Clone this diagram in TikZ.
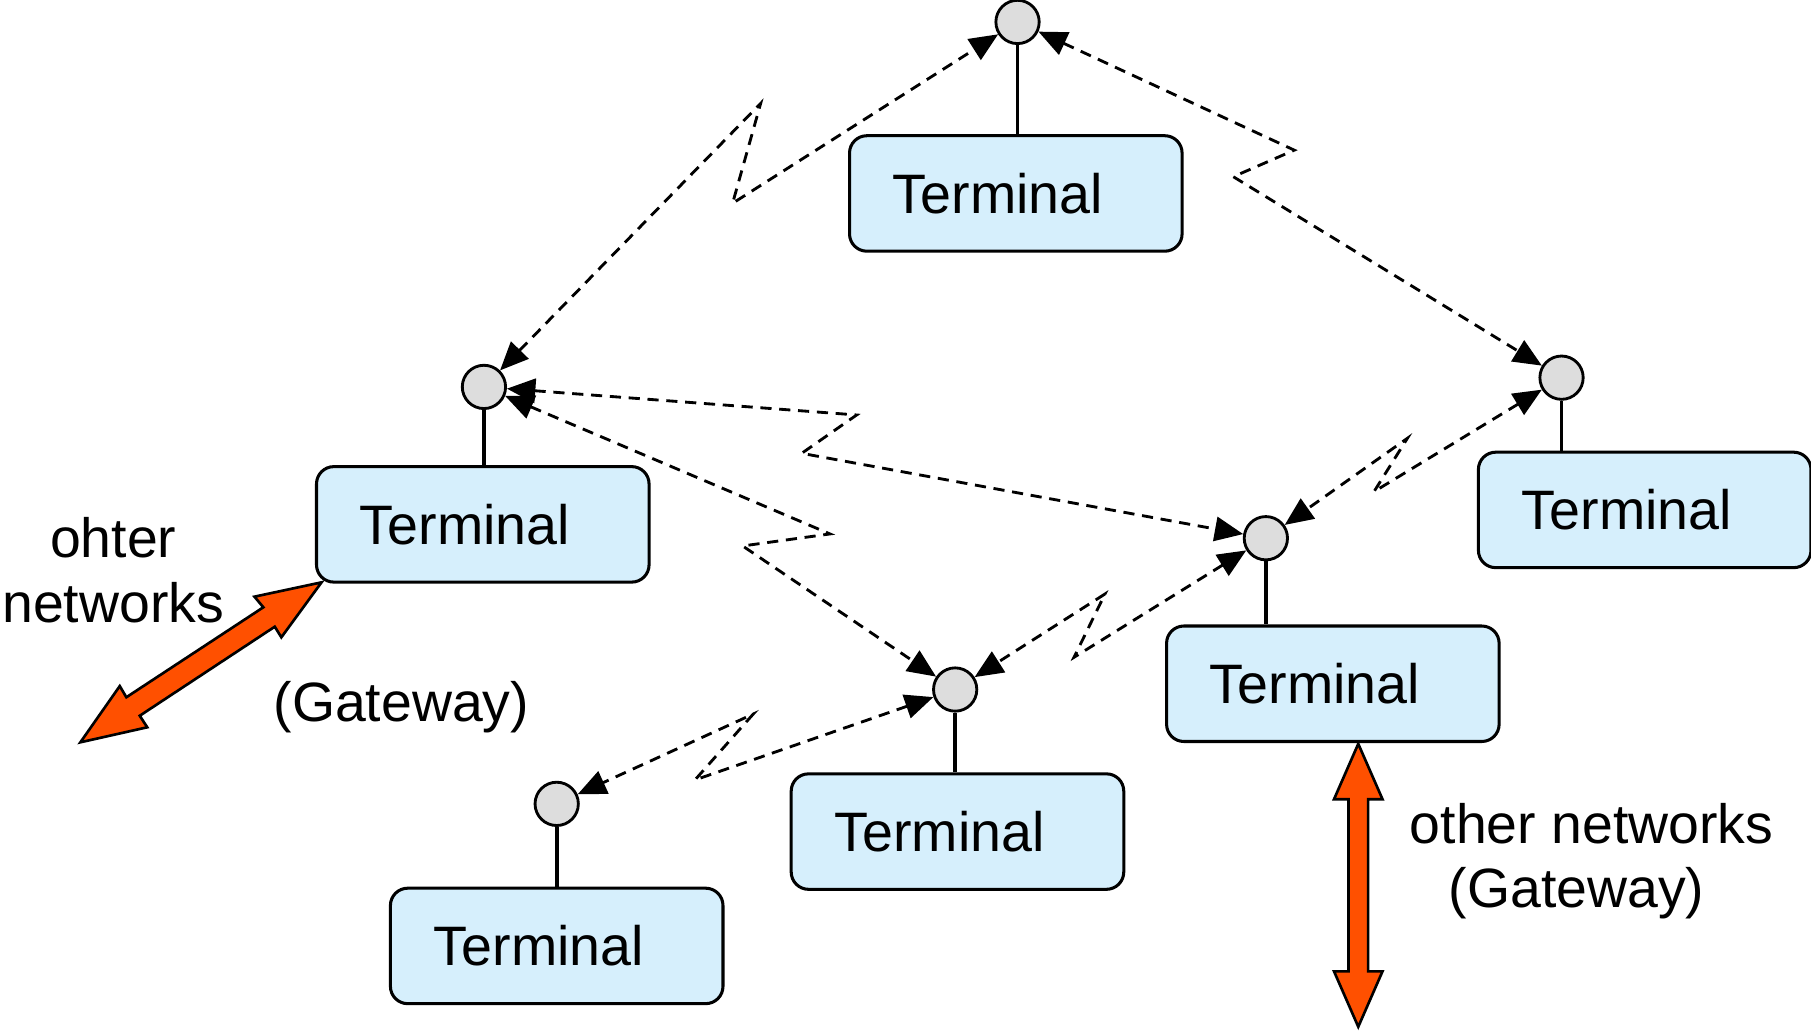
\documentclass[tikz,border=0pt]{standalone}
\usepackage{fontspec}
\setmainfont{Liberation Sans}
\usetikzlibrary{arrows.meta}
\definecolor{boxblue}{RGB}{214,239,252}
\definecolor{dotgray}{RGB}{221,221,221}
\definecolor{gwred}{RGB}{255,80,0}
\begin{document}
\begin{tikzpicture}[x=0.02cm,y=-0.02cm,
  termbox/.style={draw=black,line width=1.5pt,fill=boxblue,rounded corners=0.3cm,
    minimum width=5.76cm,minimum height=2cm,inner sep=0pt,
    font=\fontsize{27.4}{32}\selectfont},
  dot/.style={circle,draw=black,line width=1.4pt,fill=dotgray,minimum size=0.75cm,inner sep=0pt},
  stem/.style={line width=1.8pt},
  radio/.style={line width=1.4pt,dash pattern=on 5.5pt off 3.8pt,
    {Triangle[length=14pt,width=12pt]}-{Triangle[length=14pt,width=12pt]}},
  gateway/.style={draw=black,line width=1.3pt,fill=gwred,line join=miter},
  lbl/.style={anchor=base,font=\fontsize{27.3}{32}\selectfont,inner sep=0pt}]
\useasboundingbox (0,0) rectangle (1568,894.4);

% terminals
\node[termbox] (T1) at (879.5,167.5) {Terminal\kern0.62cm};
\node[termbox] (T2) at (418,454) {Terminal\kern0.62cm};
\node[termbox] (T3) at (1424,441.5) {Terminal\kern0.62cm};
\node[termbox] (T4) at (1154,592) {Terminal\kern0.62cm};
\node[termbox] (T5) at (829,720) {Terminal\kern0.62cm};
\node[termbox] (T6) at (482,819) {Terminal\kern0.62cm};

% antennas
\node[dot] (C1) at (881,19) {};
\node[dot] (C2) at (419,335) {};
\node[dot] (C3) at (1352,327) {};
\node[dot] (C4) at (1096,466) {};
\node[dot] (C5) at (827,597) {};
\node[dot] (C6) at (482,696) {};

\draw[stem] (C1) -- (C1 |- T1.north);
\draw[stem] (C2) -- (C2 |- T2.north);
\draw[stem] (C3) -- (C3 |- T3.north);
\draw[stem] (C4) -- (C4 |- T4.north);
\draw[stem] (C5) -- (C5 |- T5.north);
\draw[stem] (C6) -- (C6 |- T6.north);

% zigzag vertices
\coordinate (a1) at (658.6,89.5);   \coordinate (a2) at (634.3,176);
\coordinate (b1) at (1120.6,130);   \coordinate (b2) at (1067.8,153);
\coordinate (c1) at (741.7,359.3);  \coordinate (c2) at (694.1,392.5);
\coordinate (d1) at (718.6,462.3);  \coordinate (d2) at (643,472.7);
\coordinate (e1) at (1189.6,425.7); \coordinate (e2) at (1218.5,379.5);
\coordinate (f1) at (929.9,569.1);  \coordinate (f2) at (956.7,514.3);
\coordinate (g1) at (601.7,675.3);  \coordinate (g2) at (652.2,618.2);

% radio links
\draw[radio] (C2) -- (a1) -- (a2) -- (C1);
\draw[radio] (C1) -- (b1) -- (b2) -- (C3);
\draw[radio] (C2) -- (c1) -- (c2) -- (C4);
\draw[radio] (C2) -- (d1) -- (d2) -- (C5);
\draw[radio] (C3) -- (e1) -- (e2) -- (C4);
\draw[radio] (C4) -- (f1) -- (f2) -- (C5);
\draw[radio] (C5) -- (g1) -- (g2) -- (C6);

% gateway arrows
\draw[gateway] (278.4,504.2) -- (243.6,551.8) -- (237.9,542.6) -- (121.0,619.7)
  -- (127.5,629.7) -- (69.6,642.7) -- (103.7,594.0) -- (109.4,603.7)
  -- (228.0,525.8) -- (220.3,516.6) -- cycle;
\draw[gateway] (1176,644) -- (1197,692) -- (1184.5,692) -- (1184.5,841)
  -- (1197,841) -- (1176,889) -- (1155,841) -- (1167.5,841)
  -- (1167.5,692) -- (1155,692) -- cycle;

% labels
\node[lbl] (l1) at (98,483) {ohter};
\node[lbl] (l2) at (98,539) {networks};
\node[lbl] (l3) at (347.5,625) {(Gateway)};
\node[lbl] (l4) at (1378,730) {other networks};
\node[lbl] (l5) at (1365,786) {(Gateway)};
\end{tikzpicture}
\end{document}
